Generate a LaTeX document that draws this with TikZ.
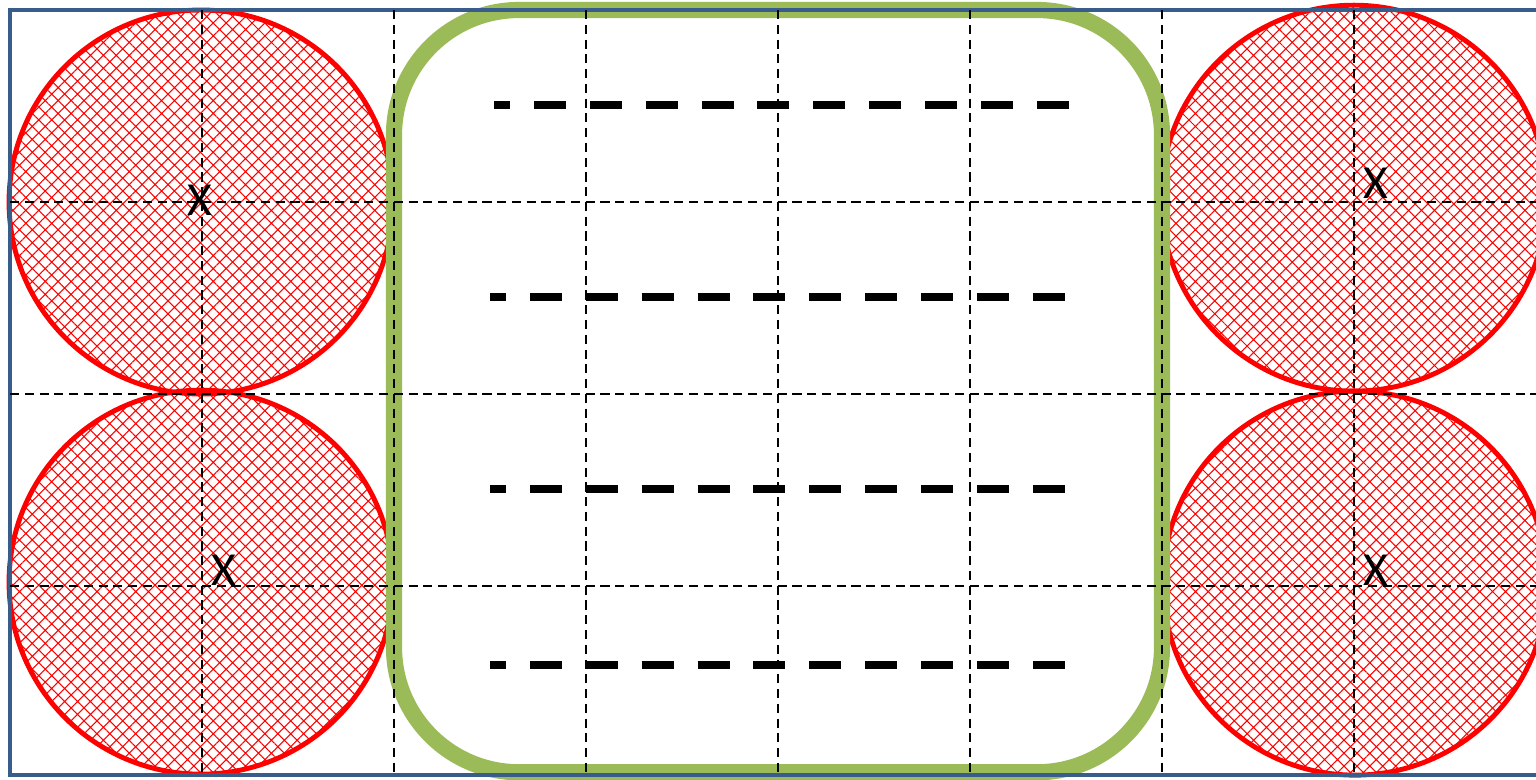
\documentclass[tikz,border=0pt]{standalone}
\usepackage{fontspec}
\setsansfont{Carlito}
\usetikzlibrary{patterns.meta}
\definecolor{framecol}{RGB}{56,93,138}
\definecolor{bandgreen}{RGB}{155,187,89}
\begin{document}
\begin{tikzpicture}[x=1.92cm,y=1.92cm,
  ball/.style={draw=red,line width=1.4pt,pattern={Hatch[angle=45,distance=2.6pt,line width=0.3pt]},pattern color=red},
  gridline/.style={line width=0.55pt,dash pattern=on 2.6pt off 1.6pt},
  rowdash/.style={line width=2.4pt,dash pattern=on 9.1pt off 6.8pt,dash phase=4.55pt},
  xlabel/.style={font=\sffamily\fontsize{13.5}{14}\selectfont,inner sep=0pt}]
  \clip (-0.0521,0.0521) rectangle (7.9479,-4.0052);
  % balls in the four corner cells
  \draw[ball] (0.995,-1) circle (1.0);
  \draw[ball] (0.995,-2.98) circle (1.0);
  \draw[ball] (7,-0.98) circle (1.005);
  \draw[ball] (7.005,-2.985) circle (1.0);
  % band in the middle
  \draw[bandgreen,line width=4.6pt,rounded corners=1.25cm] (2,0) rectangle (6,-3.97);
  % outer frame
  \draw[framecol,line width=1.2pt] (0,0) rectangle (8.5,-3.984);
  % grid
  \foreach \i in {1,...,7} \draw[gridline] (\i,0) -- (\i,-3.984);
  \foreach \j in {1,2,3} \draw[gridline] (0,-\j) -- (8,-\j);
  % rows of dashes
  \draw[rowdash] (2.521,-0.495) -- (5.526,-0.495);
  \foreach \y in {-1.495,-2.495,-3.411} \draw[rowdash] (2.5,\y) -- (5.5,\y);
  % labels
  \node[xlabel] (xtl) at (0.99,-0.99) {X};
  \node[xlabel] (xtr) at (7.115,-0.901) {X};
  \node[xlabel] (xbl) at (1.115,-2.917) {X};
  \node[xlabel] (xbr) at (7.115,-2.917) {X};
\end{tikzpicture}
\end{document}
